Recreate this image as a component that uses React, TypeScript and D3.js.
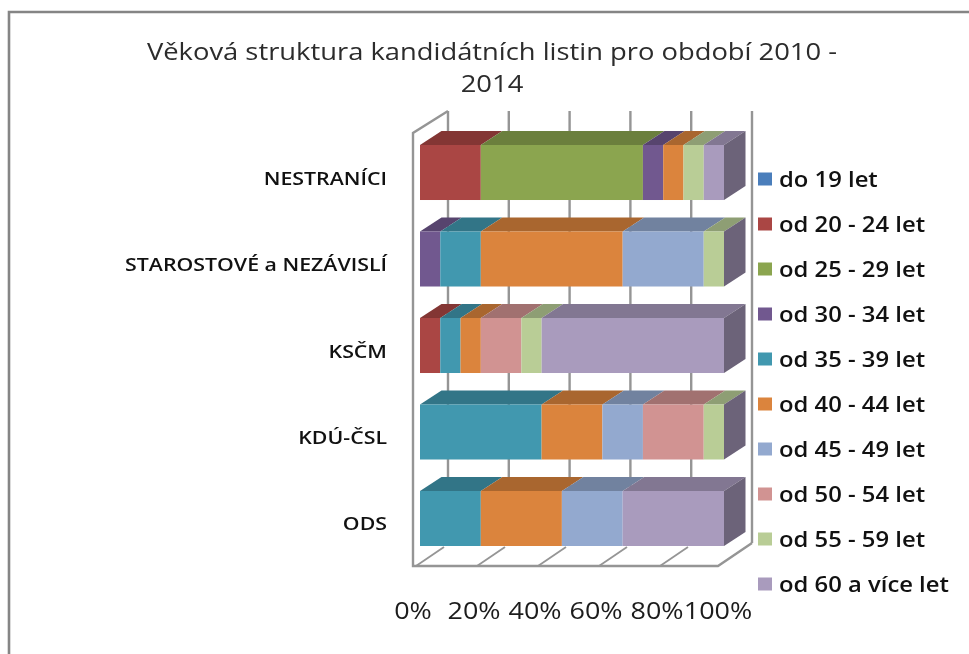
import React from "react";
import * as d3 from "d3";

const TITLE_LINES = ["Věková struktura kandidátních listin pro období 2010 -", "2014"];
const CATEGORIES = ["NESTRANÍCI", "STAROSTOVÉ a NEZÁVISLÍ", "KSČM", "KDÚ-ČSL", "ODS"];
const SERIES = ["do 19 let", "od 20 - 24 let", "od 25 - 29 let", "od 30 - 34 let", "od 35 - 39 let", "od 40 - 44 let", "od 45 - 49 let", "od 50 - 54 let", "od 55 - 59 let", "od 60 a více let"];
const COLORS = ["#4a7ebb", "#aa4644", "#8ba54f", "#71588f", "#4198af", "#db843d", "#93a9cf", "#d19392", "#b9cd96", "#a99bbd"];
const TICKS = [0, 20, 40, 60, 80, 100];

// one row per party, one number per age group (share of the list, %)
const NESTRANICI = [0, 20, 53.33, 6.67, 0, 6.67, 0, 0, 6.67, 6.66];
const STAROSTOVE = [0, 0, 0, 6.67, 13.33, 46.67, 26.66, 0, 6.67, 0];
const KSCM = [0, 6.67, 0, 0, 6.67, 6.67, 0, 13.33, 6.67, 59.99];
const KDU = [0, 0, 0, 0, 40, 20, 13.33, 20, 6.67, 0];
const ODS = [0, 0, 0, 0, 20, 26.67, 20, 0, 0, 33.33];
const ROWS = [NESTRANICI, STAROSTOVE, KSCM, KDU, ODS];

const GRID = "#959595";
const FONT = "'Open Sans', 'Noto Sans', sans-serif";

const shade = (c: string, k: number) => {
  const r = d3.rgb(c);
  return d3.rgb(r.r * k, r.g * k, r.b * k).formatHex();
};

const Txt = ({ x, y, sx = 1, anchor = "start", size, weight = 400, fill = "#222", children }: any) => (
  <text transform={`translate(${x},${y}) scale(${sx},1)`} textAnchor={anchor} fontSize={size} fontWeight={weight} fill={fill} fontFamily={FONT}>
    {children}
  </text>
);

export default function App() {
  const DX = 21.5, DY = 14;
  const x = d3.scaleLinear().domain([0, 100]).range([420, 724]);
  const xBack = d3.scaleLinear().domain([0, 100]).range([448, 752]);
  const xFloor = d3.scaleLinear().domain([0, 100]).range([413, 718]);
  const y = d3.scaleBand<string>().domain(CATEGORIES).range([145, 546]).paddingInner(0.364);
  const legendY = d3.scalePoint<string>().domain(SERIES).range([179, 584]);

  const table = CATEGORIES.map((c, i) => {
    const o: any = { cat: c };
    SERIES.forEach((s, j) => (o[s] = ROWS[i][j]));
    return o;
  });
  const stacked = d3.stack<any>().keys(SERIES)(table);
  const h = y.bandwidth();

  return (
    <svg width={969} height={654} style={{ position: "absolute", left: 0, top: 0, filter: "blur(0.55px)", background: "#fff" }}>
      <path d="M9,654V12H969" fill="none" stroke="#858585" strokeWidth={2.6} />

      {TITLE_LINES.map((t, i) => (
        <Txt key={t} x={492} y={60 + i * 31.5} sx={1.14} anchor="middle" size={24} fill="#2c2c2c">{t}</Txt>
      ))}

      {/* walls and floor */}
      {TICKS.map((t) => (
        <g key={t} stroke={GRID} strokeWidth={2.4} fill="none">
          <line x1={xBack(t)} x2={xBack(t)} y1={111} y2={543} />
          {t < 100 && <line x1={xFloor(t) + 3} x2={xFloor(t) + 31} y1={566} y2={547} strokeWidth={1.8} />}
        </g>
      ))}
      <path d={`M${xBack(0)},111L${xFloor(0)},133V566H${xFloor(100)}L${xBack(100)},543`} fill="none" stroke={GRID} strokeWidth={2.4} />

      {/* bars */}
      {CATEGORIES.map((c, i) => {
        const top = y(c)!;
        return (
          <g key={c}>
            {stacked.map((s, j) => {
              const [a, b] = s[i];
              if (b - a <= 0) return null;
              const x0 = x(a), x1 = x(b);
              return (
                <g key={j}>
                  <path d={`M${x0},${top}L${x0 + DX},${top - DY}H${x1 + DX}L${x1},${top}Z`} fill={shade(COLORS[j], 0.77)} />
                  <rect x={x0} y={top} width={x1 - x0} height={h} fill={COLORS[j]} />
                </g>
              );
            })}
            <path d={`M${x(100)},${top}L${x(100) + DX},${top - DY}V${top + h - DY}L${x(100)},${top + h}Z`} fill={shade(COLORS[9], 0.64)} />
          </g>
        );
      })}

      {/* category labels */}
      {CATEGORIES.map((c) => (
        <Txt key={c} x={387} y={y(c)! + h / 2 + 12} anchor="end" sx={1.185} size={18} weight={600} fill="#111">{c}</Txt>
      ))}

      {/* value axis */}
      {TICKS.map((t) => (
        <Txt key={t} x={xFloor(t)} y={619} anchor="middle" sx={1.17} size={23} fill="#1c1c1c">{`${t}%`}</Txt>
      ))}

      {/* legend */}
      {SERIES.map((s, j) => {
        const ly = legendY(s)!;
        return (
          <g key={s}>
            <rect x={758} y={ly - 6.5} width={14} height={13} fill={COLORS[j]} />
            <Txt x={779} y={ly + 8} sx={1.135} size={21} weight={600} fill="#111">{s}</Txt>
          </g>
        );
      })}
    </svg>
  );
}
